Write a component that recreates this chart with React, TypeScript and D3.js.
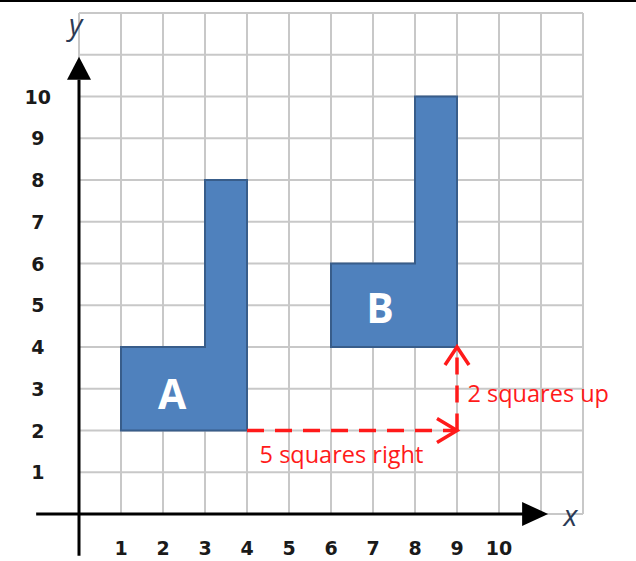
import React from "react";
import * as d3 from "d3";

const xTicks = [1, 2, 3, 4, 5, 6, 7, 8, 9, 10];
const yTicks = [1, 2, 3, 4, 5, 6, 7, 8, 9, 10];
const gridX = d3.range(0, 13);
const gridY = d3.range(0, 13);
const shapeA: [number, number][] = [[1, 2], [4, 2], [4, 8], [3, 8], [3, 4], [1, 4]];
const shapeB: [number, number][] = [[6, 4], [9, 4], [9, 10], [8, 10], [8, 6], [6, 6]];
const labelA = { text: "A", x: 2.22, y: 2.9 };
const labelB = { text: "B", x: 7.17, y: 4.96 };
const moveRight = { from: [4, 2], to: [9, 2], text: "5 squares right" };
const moveUp = { from: [9, 2], to: [9, 4], text: "2 squares up" };

export default function App() {
  const W = 636, H = 561;
  const x = d3.scaleLinear().domain([0, 12]).range([79, 583]);
  const y = d3.scaleLinear().domain([0, 12]).range([514, 13]);
  const line = d3.line<[number, number]>().x(d => x(d[0])).y(d => y(d[1]));
  const poly = (pts: [number, number][]) => line(pts)! + "Z";
  const red = "#ff1a1a";
  const rx = x(moveRight.to[0]), ry = y(moveRight.to[1]);
  const ux = x(moveUp.to[0]), uy = y(moveUp.to[1]);
  return (
    <svg width={W} height={H} style={{ position: "absolute", left: 0, top: 0, background: "#fff" }}>
      <rect width={W} height={H} fill="#fff" />
      <line x1={0} x2={W} y1={1} y2={1} stroke="#000" strokeWidth={2} />
      {/* grid */}
      {gridX.map(v => (
        <line key={"gx" + v} x1={x(v)} x2={x(v)} y1={y(0)} y2={y(12)} stroke="#c8c8c8" strokeWidth={2} />
      ))}
      {gridY.map(v => (
        <line key={"gy" + v} x1={x(0)} x2={x(12)} y1={y(v)} y2={y(v)} stroke="#c8c8c8" strokeWidth={2} />
      ))}
      {/* shapes */}
      <path d={poly(shapeA)} fill="#4f81bd" stroke="#385d8a" strokeWidth={2} />
      <path d={poly(shapeB)} fill="#4f81bd" stroke="#385d8a" strokeWidth={2} />
      <text x={x(labelA.x)} y={y(labelA.y)} fill="#fff" fontFamily="Open Sans, sans-serif" fontWeight="bold" fontSize={41} textAnchor="middle" dominantBaseline="central">{labelA.text}</text>
      <text x={x(labelB.x)} y={y(labelB.y)} fill="#fff" fontFamily="Open Sans, sans-serif" fontWeight="bold" fontSize={41} textAnchor="middle" dominantBaseline="central">{labelB.text}</text>
      {/* axes */}
      <line x1={x(0)} x2={x(0)} y1={y(-1)} y2={y(10.4)} stroke="#000" strokeWidth={3} />
      <path d={`M${x(0)},${y(10.95)} L${x(0) - 12},${y(10.4)} L${x(0) + 12},${y(10.4)} Z`} fill="#000" />
      <line x1={x(-1.02)} x2={x(10.6)} y1={y(0)} y2={y(0)} stroke="#000" strokeWidth={3} />
      <path d={`M${x(11.17)},${y(0)} L${x(10.55)},${y(0) - 12} L${x(10.55)},${y(0) + 12} Z`} fill="#000" />
      <text x={x(-0.08)} y={y(11.75)} fill="#2b3a55" fontFamily="Open Sans, sans-serif" fontStyle="italic" fontSize={29} textAnchor="middle" dominantBaseline="central">y</text>
      <text x={x(11.7)} y={y(-0.02)} fill="#2b3a55" fontFamily="Open Sans, sans-serif" fontStyle="italic" fontSize={29} textAnchor="middle" dominantBaseline="central">x</text>
      {yTicks.map(v => (
        <text key={"yt" + v} x={x(-0.98)} y={y(v)} fill="#1a1a1a" fontFamily="DejaVu Sans, sans-serif" fontWeight="bold" fontSize={19} textAnchor="middle" dominantBaseline="central">{v}</text>
      ))}
      {xTicks.map(v => (
        <text key={"xt" + v} x={x(v)} y={y(-0.82)} fill="#1a1a1a" fontFamily="DejaVu Sans, sans-serif" fontWeight="bold" fontSize={19} textAnchor="middle" dominantBaseline="central">{v}</text>
      ))}
      {/* translation arrows */}
      <line x1={x(moveRight.from[0])} x2={rx - 2} y1={ry} y2={ry} stroke={red} strokeWidth={3.5} strokeDasharray="17 11" />
      <path d={`M${rx - 20},${ry - 12} L${rx},${ry} L${rx - 20},${ry + 12}`} fill="none" stroke={red} strokeWidth={3.5} />
      <line x1={ux} x2={ux} y1={y(moveUp.from[1])} y2={uy + 2} stroke={red} strokeWidth={3.5} strokeDasharray="17 11" />
      <path d={`M${ux - 12},${uy + 18} L${ux},${uy} L${ux + 12},${uy + 18}`} fill="none" stroke={red} strokeWidth={3.5} />
      <text x={x(4.3)} y={y(1.22)} fill={red} fontFamily="Open Sans, sans-serif" fontSize={23.5}>{moveRight.text}</text>
      <text x={x(9.25)} y={y(2.68)} fill={red} fontFamily="Open Sans, sans-serif" fontSize={23.5}>{moveUp.text}</text>
    </svg>
  );
}
